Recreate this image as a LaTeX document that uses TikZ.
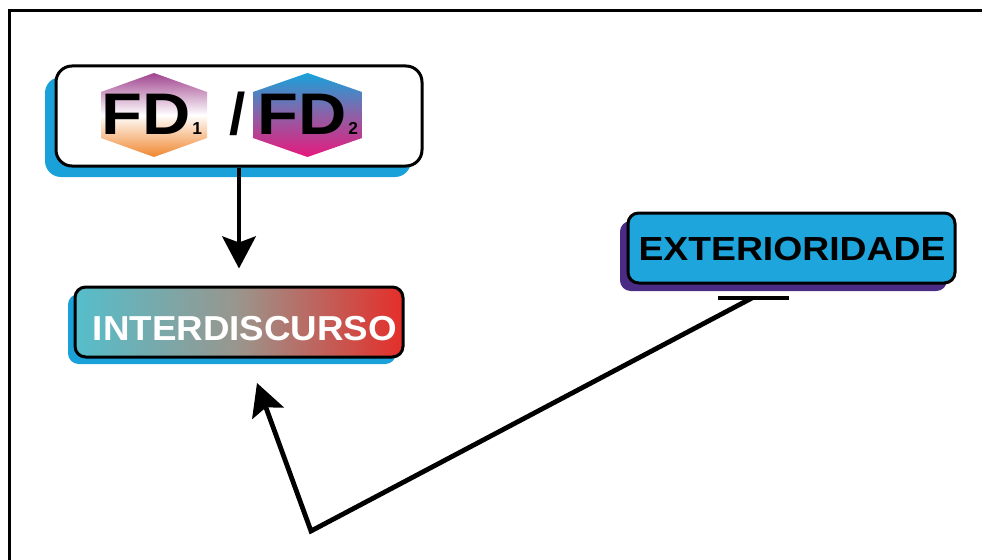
\documentclass[tikz,border=0pt]{standalone}
\usepackage{fontspec}
\setmainfont{Liberation Sans}
\usetikzlibrary{arrows.meta,shadows}

\definecolor{shadowcyan}{RGB}{27,161,218}
\definecolor{extfill}{RGB}{30,165,220}
\definecolor{extshadow}{RGB}{74,44,132}
\definecolor{intleft}{RGB}{85,190,203}
\definecolor{intmid}{RGB}{154,149,140}
\definecolor{intright}{RGB}{229,46,42}
\definecolor{hexpurple}{RGB}{160,68,143}
\definecolor{hexorange}{RGB}{240,134,46}
\definecolor{hexcyan}{RGB}{23,162,219}
\definecolor{hexviolet}{RGB}{142,96,166}
\definecolor{hexmagenta}{RGB}{230,25,125}

\begin{document}
\begin{tikzpicture}[x=0.75pt,y=-0.75pt,
  box/.style={draw=black, line width=2.25pt, inner sep=0pt},
  lbl/.style={inner sep=0pt, font=\fontsize{26}{26}\selectfont\bfseries},
  bigfd/.style={inner sep=0pt, font=\fontsize{44}{44}\selectfont\bfseries},
  sub/.style={inner sep=0pt, font=\fontsize{13}{13}\selectfont\bfseries},
  conn/.style={line width=3.6pt, line join=miter},
  tip/.style={-{Stealth[length=24pt,width=25pt,inset=4.5pt]}},
]
\useasboundingbox (0,0) rectangle (982,560);

% outer frame (runs past the right and bottom page edges)
\draw[line width=2.25pt] (9.5,10.5) rectangle (1010,600);

% FD1 / FD2 box
\node[box, fill=white, rounded corners=12pt,
      minimum width=274.5pt, minimum height=75pt,
      drop shadow={shadow xshift=-8.25pt, shadow yshift=-8.25pt,
                   fill=shadowcyan, opacity=1}] (top) at (239,116) {};

% hexagon badges
\shade[top color=hexpurple, bottom color=hexorange, middle color=white]
  (101,92) -- (154,73) -- (207,92) -- (207,138) -- (154,157) -- (101,138) -- cycle;
\shade[top color=hexcyan, bottom color=hexmagenta, middle color=hexviolet]
  (253,92) -- (307.5,73) -- (362,92) -- (362,138) -- (307.5,157) -- (253,138) -- cycle;

\node[bigfd, anchor=base east] (fd1) at (191,134) {\scalebox{1.14}[1]{FD}};
\node[sub, anchor=base west] (fd1sub) at (192,134) {1};
\node[bigfd, anchor=base] (slash) at (238,134) {/};
\node[bigfd, anchor=base east] (fd2) at (347,134) {\scalebox{1.14}[1]{FD}};
\node[sub, anchor=base west] (fd2sub) at (348,134) {2};

% INTERDISCURSO box
\node[box, rounded corners=8pt,
      minimum width=246pt, minimum height=52.5pt,
      left color=intleft, right color=intright, middle color=intmid,
      drop shadow={shadow xshift=-5.25pt, shadow yshift=-5.25pt,
                   fill=shadowcyan, opacity=1}] (inter) at (239,322) {};
\node[lbl, text=white, anchor=base] (interlabel) at (245,340)
  {\scalebox{1.06}[1]{INTERDISCURSO}};

% EXTERIORIDADE box
\node[box, fill=extfill, rounded corners=8pt,
      minimum width=245.25pt, minimum height=52.5pt,
      drop shadow={shadow xshift=-6pt, shadow yshift=-6pt,
                   fill=extshadow, opacity=1}] (ext) at (791.5,248) {};
\node[lbl, text=black, anchor=base, font=\fontsize{25}{25}\selectfont\bfseries]
  (extlabel) at (792,260) {\scalebox{1.12}[1]{EXTERIORIDADE}};

% connectors
\draw[conn, tip, shorten >=12.75pt] (top.south) -- (inter.north);

\coordinate (tee) at (752,298);
\coordinate (bend) at (311,531);
\coordinate (end) at (257,383);
\draw[line width=3.3pt] ([xshift=-25.5pt]tee) -- ([xshift=27.75pt]tee);
\draw[conn, tip] (tee) -- (bend) -- (end);
\end{tikzpicture}
\end{document}
